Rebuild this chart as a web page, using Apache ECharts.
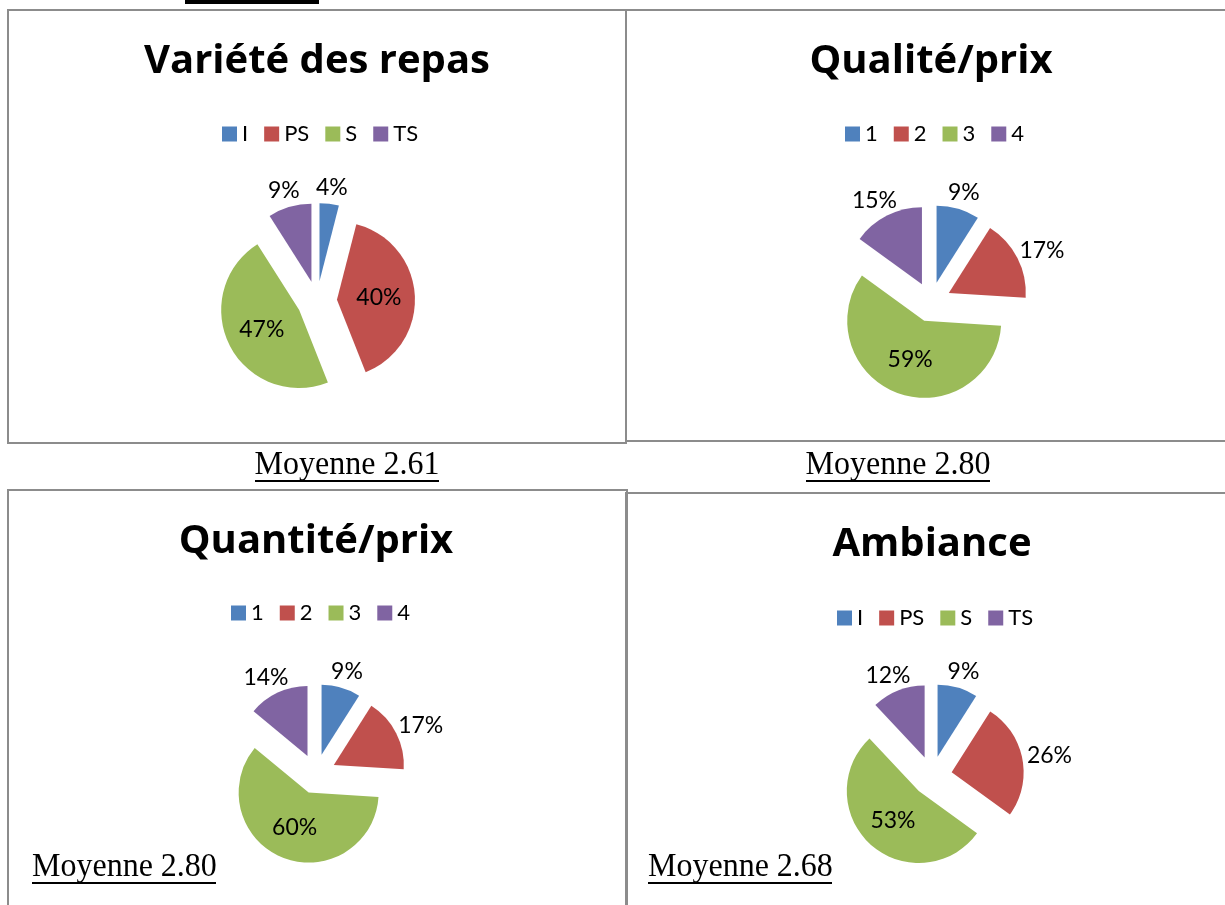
<!DOCTYPE html>
<html>
<head>
<meta charset="utf-8">
<script src="https://cdn.jsdelivr.net/npm/echarts@6/dist/echarts.min.js"></script>
<style>
  html, body { margin: 0; padding: 0; background: #fff; }
  #main { width: 1225px; height: 905px; }
</style>
</head>
<body>
<div id="main"></div>
<script>
// catégories des légendes
const nivLettres = ['I', 'PS', 'S', 'TS'];
const nivChiffres = ['1', '2', '3', '4'];
const varieteRepas = [4, 40, 47, 9];
const qualitePrix = [9, 17, 59, 15];
const quantitePrix = [9, 17, 60, 14];
const ambiance = [9, 26, 53, 12];
// moyennes sous chaque graphique
const moyennes = ['Moyenne 2.61', 'Moyenne 2.80', 'Moyenne 2.80', 'Moyenne 2.68'];

const couleurs = ['#4f81bd', '#c0504d', '#9bbb59', '#8064a2'];
const police = 'Lato, "Open Sans", sans-serif';
const policeTitre = '"Open Sans", Lato, sans-serif';

// mise en page de chaque camembert
const graphes = [
  { titre: 'Variété des repas', noms: nivLettres, valeurs: varieteRepas, cx: 317, cy: 301, r: 78, titreY: 62, legX: 222, legY: 133,
    pos: ['outside', 'inside', 'inside', 'outside'] },
  { titre: 'Qualité/prix', noms: nivChiffres, valeurs: qualitePrix, cx: 931, cy: 302, r: 77, titreY: 62, legX: 845, legY: 133,
    pos: ['outside', 'outside', 'inside', 'outside'] },
  { titre: 'Quantité/prix', noms: nivChiffres, valeurs: quantitePrix, cx: 316, cy: 774, r: 70, titreY: 542, legX: 231, legY: 612,
    pos: ['outside', 'outside', 'inside', 'outside'] },
  { titre: 'Ambiance', noms: nivLettres, valeurs: ambiance, cx: 932, cy: 776, r: 72, titreY: 545, legX: 837, legY: 617,
    pos: ['outside', 'outside', 'inside', 'outside'] }
];

// angle du milieu d'une part (sens horaire depuis midi)
function angleMilieu(vals, i) {
  const total = vals.reduce((a, b) => a + b, 0);
  let cum = 0;
  for (let k = 0; k < i; k++) cum += vals[k];
  return (cum + vals[i] / 2) / total * Math.PI * 2;
}

const chart = echarts.init(document.getElementById('main'));

const titres = graphes.map((g) => ({
  text: g.titre,
  left: g.cx,
  top: g.titreY,
  padding: 0,
  textAlign: 'center',
  textVerticalAlign: 'middle',
  textStyle: { fontFamily: policeTitre, fontSize: 40, fontWeight: 'bold', color: '#000' }
}));

const legendes = graphes.map((g) => ({
  data: g.noms,
  left: g.legX,
  top: g.legY - 10,
  padding: 0,
  icon: 'rect',
  itemWidth: 15,
  itemHeight: 15,
  itemGap: 16,
  selectedMode: false,
  textStyle: { fontFamily: police, fontSize: 22, color: '#000' }
}));

const series = graphes.map((g) => ({
  type: 'pie',
  center: [g.cx, g.cy],
  radius: g.r,
  startAngle: 90,
  clockwise: true,
  selectedMode: 'multiple',
  selectedOffset: 20,
  avoidLabelOverlap: false,
  emphasis: { disabled: true },
  animation: false,
  data: g.noms.map((n, i) => ({
    name: n,
    value: g.valeurs[i],
    selected: true,
    itemStyle: { color: couleurs[i] },
    label: { position: g.pos[i] }
  })),
  label: {
    formatter: '{c}%',
    fontFamily: police,
    fontSize: 23,
    color: '#000'
  },
  labelLine: { show: false, length: 5, length2: 0 },
  labelLayout: function (p) {
    if (g.pos[p.dataIndex] !== 'outside') return {};
    const a = angleMilieu(g.valeurs, p.dataIndex);
    const ux = Math.sin(a), uy = -Math.cos(a);
    const w = p.labelRect.width, h = p.labelRect.height;
    const sgn = ux >= 0 ? 1 : -1;
    return { dx: ux * w / 2 - sgn * (5 + w / 2), dy: uy * h / 2 };
  }
}));

// cadres, légendes « Moyenne » et fragment d'en-tête
const gris = '#8c8c8c';
function cadre(x, y, w, h) {
  return { type: 'rect', shape: { x: x, y: y, width: w, height: h }, style: { fill: 'none', stroke: gris, lineWidth: 2 }, silent: true };
}
function moyenne(txt, x, y, align) {
  return {
    type: 'group', x: x, y: y, silent: true,
    children: [
      { type: 'text', scaleY: 1.08, style: { text: txt, font: '32px "Liberation Serif", "Times New Roman", serif', fill: '#000', textAlign: align, textVerticalAlign: 'bottom' } },
      { type: 'rect', shape: { x: align === 'center' ? -92 : 0, y: -2, width: 184, height: 2 }, style: { fill: '#000' } }
    ]
  };
}

const graphic = [
  { type: 'rect', shape: { x: 185, y: 0, width: 134, height: 4 }, style: { fill: '#000' }, silent: true },
  cadre(8, 10, 618, 433),
  cadre(626, 10, 610, 431),
  cadre(8, 490, 619, 430),
  cadre(626, 493, 610, 430),
  moyenne(moyennes[0], 347, 482, 'center'),
  moyenne(moyennes[1], 898, 482, 'center'),
  moyenne(moyennes[2], 32, 884, 'left'),
  moyenne(moyennes[3], 648, 884, 'left')
];

chart.setOption({
  backgroundColor: '#fff',
  animation: false,
  title: titres,
  legend: legendes,
  series: series,
  graphic: graphic
});
</script>
</body>
</html>
